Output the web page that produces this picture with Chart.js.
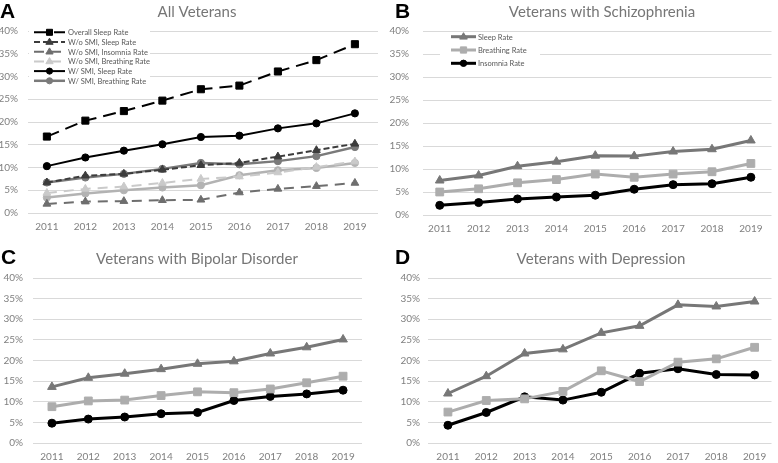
<!DOCTYPE html>
<html>
<head>
<meta charset="utf-8">
<script src="https://cdn.jsdelivr.net/npm/chart.js@4/dist/chart.umd.min.js"></script>
<style>
html,body{margin:0;padding:0;background:#fff;}
#wrap{position:relative;width:778px;height:463px;overflow:hidden;}
canvas{position:absolute;left:0;top:0;}
</style>
</head>
<body>
<div id="wrap">
<canvas id="cA" width="778" height="463"></canvas>
<canvas id="cB" width="778" height="463"></canvas>
<canvas id="cC" width="778" height="463"></canvas>
<canvas id="cD" width="778" height="463"></canvas>
</div>
<script>
// ---------- DATA ----------
const years = ['2011','2012','2013','2014','2015','2016','2017','2018','2019'];
const yTickValues = [0,5,10,15,20,25,30,35,40];

const titleA = 'All Veterans';
const titleB = 'Veterans with Schizophrenia';
const titleC = 'Veterans with Bipolar Disorder';
const titleD = 'Veterans with Depression';

// Panel A - All Veterans
const allOverallSleep   = [16.8, 20.3, 22.4, 24.7, 27.2, 28.0, 31.1, 33.6, 37.1];
const allNoSmiSleep     = [6.7, 8.2, 8.6, 9.5, 10.5, 11.0, 12.4, 13.8, 15.2];
const allNoSmiInsomnia  = [2.0, 2.5, 2.6, 2.8, 2.9, 4.5, 5.3, 5.9, 6.6];
const allNoSmiBreathing = [4.4, 5.3, 5.8, 6.6, 7.5, 8.0, 8.9, 10.1, 11.3];
const allSmiSleep       = [10.3, 12.2, 13.7, 15.1, 16.7, 17.0, 18.6, 19.7, 21.9];
const allSmiBreathing   = [6.7, 7.8, 8.6, 9.7, 11.0, 10.7, 11.4, 12.5, 14.5];
const allSmiOther       = [3.4, 4.3, 5.0, 5.6, 6.1, 8.3, 9.4, 9.9, 11.0];

// Panel B - Schizophrenia
const schSleep     = [7.5, 8.6, 10.6, 11.6, 12.9, 12.8, 13.8, 14.3, 16.2];
const schBreathing = [5.0, 5.7, 7.0, 7.7, 8.9, 8.2, 8.9, 9.4, 11.2];
const schInsomnia  = [2.1, 2.7, 3.5, 3.9, 4.3, 5.6, 6.6, 6.8, 8.2];

// Panel C - Bipolar Disorder
const bipSleep     = [13.6, 15.8, 16.8, 17.9, 19.2, 19.8, 21.7, 23.2, 25.1];
const bipBreathing = [8.8, 10.2, 10.4, 11.5, 12.4, 12.2, 13.1, 14.6, 16.2];
const bipInsomnia  = [4.8, 5.8, 6.3, 7.1, 7.4, 10.3, 11.3, 11.9, 12.8];

// Panel D - Depression
const depSleep     = [12.0, 16.2, 21.7, 22.7, 26.7, 28.4, 33.5, 33.1, 34.3];
const depBreathing = [7.5, 10.3, 10.7, 12.5, 17.5, 14.9, 19.6, 20.4, 23.2];
const depInsomnia  = [4.3, 7.4, 11.2, 10.4, 12.3, 16.9, 18.0, 16.6, 16.5];

// ---------- HELPERS ----------
const W = 778, H = 463;
const FONT = 'Lato, "Open Sans", sans-serif';
const toXY = arr => arr.map((v, i) => ({x: i, y: v}));

function drawMarker(ctx, style, r, x, y, color) {
  ctx.save();
  ctx.fillStyle = color; ctx.strokeStyle = color; ctx.lineWidth = 1; ctx.setLineDash([]);
  ctx.beginPath();
  if (style === 'circle') {
    ctx.arc(x, y, r, 0, Math.PI * 2);
  } else if (style === 'rect') {
    const s = Math.SQRT1_2 * r;
    ctx.rect(x - s, y - s, 2 * s, 2 * s);
  } else if (style === 'triangle') {
    ctx.moveTo(x, y - r);
    ctx.lineTo(x + r * 0.95, y + r * 0.6);
    ctx.lineTo(x - r * 0.95, y + r * 0.6);
    ctx.closePath();
  }
  ctx.fill(); ctx.stroke();
  ctx.restore();
}

const decoPlugin = {
  id: 'deco',
  afterDraw(chart, args, o) {
    const ctx = chart.ctx;
    ctx.save();
    ctx.fillStyle = '#000';
    ctx.font = 'bold 21px "Liberation Sans", Arial, sans-serif';
    ctx.textAlign = 'left'; ctx.textBaseline = 'middle';
    ctx.fillText(o.letter, o.letterX, o.letterY);
    ctx.fillStyle = '#767676';
    ctx.font = '15px ' + FONT;
    ctx.textAlign = 'center';
    ctx.fillText(o.title, o.titleX, o.titleY);
    if (o.legend) {
      const L = o.legend;
      ctx.fillStyle = '#fff';
      ctx.fillRect(L.box[0], L.box[1], L.box[2], L.box[3]);
      L.items.forEach((idx, k) => {
        const ds = chart.data.datasets[idx];
        const y = L.y0 + k * L.dy;
        ctx.save();
        ctx.strokeStyle = ds.borderColor;
        ctx.lineWidth = ds.borderWidth;
        ctx.setLineDash(ds.borderDash || []);
        ctx.beginPath(); ctx.moveTo(L.x1, y); ctx.lineTo(L.x2, y); ctx.stroke();
        ctx.restore();
        drawMarker(ctx, ds.pointStyle, ds.pointRadius * L.ms, (L.x1 + L.x2) / 2, y, ds.pointBackgroundColor);
        ctx.fillStyle = '#595959';
        ctx.font = L.font + 'px ' + FONT;
        ctx.textAlign = 'left'; ctx.textBaseline = 'middle';
        ctx.fillText(ds.label, L.tx, y + 0.5);
      });
    }
    ctx.restore();
  }
};

function ds(label, data, color, width, dash, style, r) {
  return {
    label, data: toXY(data), borderColor: color, backgroundColor: color,
    borderWidth: width, borderDash: dash, pointStyle: style, pointRadius: r,
    pointBackgroundColor: color, pointBorderColor: color, pointBorderWidth: 1,
    tension: 0, fill: false
  };
}

function makePanel(id, p, datasets) {
  const yw = Math.min(40, p.L), xh = 24;
  new Chart(document.getElementById(id), {
    type: 'line',
    data: {datasets},
    plugins: [decoPlugin],
    options: {
      responsive: false, animation: false, devicePixelRatio: 1,
      layout: {padding: {left: p.L - yw, right: W - p.R, top: p.T, bottom: H - p.B - xh}},
      plugins: {
        legend: {display: false}, tooltip: {enabled: false}, title: {display: false},
        deco: p.deco
      },
      scales: {
        x: {
          type: 'linear', min: p.xmin, max: p.xmax,
          afterFit: s => { s.height = xh; },
          afterBuildTicks: s => { s.ticks = years.map((_, i) => ({value: i})); },
          grid: {display: false, drawTicks: false},
          border: {display: false},
          ticks: {callback: v => years[v], color: '#808080', font: {family: FONT, size: 10}, padding: 8, maxRotation: 0, autoSkip: false}
        },
        y: {
          min: 0, max: 40,
          afterFit: s => { s.width = yw; },
          afterBuildTicks: s => { s.ticks = yTickValues.map(v => ({value: v})); },
          grid: {color: '#d9d9d9', lineWidth: 1, drawTicks: false},
          border: {display: false},
          ticks: {callback: v => v + '%', color: '#808080', font: {family: FONT, size: 10}, padding: p.ypad}
        }
      }
    }
  });
}

const DARK = '#777777', LIGHT = '#adadad', BLACK = '#000000';

// Panel A
makePanel('cA', {
  L: 28, R: 378, T: 31, B: 213, xmin: -0.49, xmax: 8.6, ypad: 10,
  deco: {letter: 'A', letterX: 0, letterY: 12, title: titleA, titleX: 197, titleY: 12,
    legend: {box: [29, 27, 121, 60], items: [0,1,2,3,4,5], y0: 32.3, dy: 9.7, x1: 34, x2: 65, tx: 68, font: 7.5, ms: 0.85}}
}, [
  ds('Overall Sleep Rate', allOverallSleep, BLACK, 2, [13, 7], 'rect', 5),
  ds('W/o SMI, Sleep Rate', allNoSmiSleep, '#3c3c3c', 2, [6, 3], 'triangle', 4.5),
  ds('W/o SMI, Insomnia Rate', allNoSmiInsomnia, '#6e6e6e', 2, [10, 7], 'triangle', 4.5),
  ds('W/o SMI, Breathing Rate', allNoSmiBreathing, '#cacaca', 2, [10, 7], 'triangle', 4.5),
  ds('W/ SMI, Sleep Rate', allSmiSleep, BLACK, 2, [], 'circle', 3.6),
  ds('W/ SMI, Breathing Rate', allSmiBreathing, '#7a7a7a', 2.5, [], 'circle', 3.6),
  ds('W/ SMI, Insomnia Rate', allSmiOther, '#b3b3b3', 2.5, [], 'circle', 3.6)
]);

// Panel B
makePanel('cB', {
  L: 423, R: 777, T: 31, B: 215, xmin: -0.43, xmax: 8.53, ypad: 14,
  deco: {letter: 'B', letterX: 395, letterY: 12, title: titleB, titleX: 602, titleY: 12,
    legend: {box: [440, 32, 100, 40], items: [0,1,2], y0: 36.7, dy: 13.3, x1: 451, x2: 476, tx: 478, font: 7.5, ms: 0.8}}
}, [
  ds('Sleep Rate', schSleep, DARK, 3, [], 'triangle', 5),
  ds('Breathing Rate', schBreathing, LIGHT, 3, [], 'rect', 5.5),
  ds('Insomnia Rate', schInsomnia, BLACK, 3, [], 'circle', 4)
]);

// Panel C
makePanel('cC', {
  L: 33, R: 362, T: 278, B: 443, xmin: -0.52, xmax: 8.52, ypad: 10,
  deco: {letter: 'C', letterX: 1, letterY: 258, title: titleC, titleX: 197, titleY: 259}
}, [
  ds('Sleep Rate', bipSleep, DARK, 3, [], 'triangle', 5),
  ds('Breathing Rate', bipBreathing, LIGHT, 3, [], 'rect', 5.5),
  ds('Insomnia Rate', bipInsomnia, BLACK, 3, [], 'circle', 4)
]);

// Panel D
makePanel('cD', {
  L: 428, R: 772, T: 278, B: 443, xmin: -0.52, xmax: 8.44, ypad: 8,
  deco: {letter: 'D', letterX: 395, letterY: 258, title: titleD, titleX: 601, titleY: 259}
}, [
  ds('Sleep Rate', depSleep, DARK, 3, [], 'triangle', 5),
  ds('Breathing Rate', depBreathing, LIGHT, 3, [], 'rect', 5.5),
  ds('Insomnia Rate', depInsomnia, BLACK, 3, [], 'circle', 4)
]);
</script>
</body>
</html>
